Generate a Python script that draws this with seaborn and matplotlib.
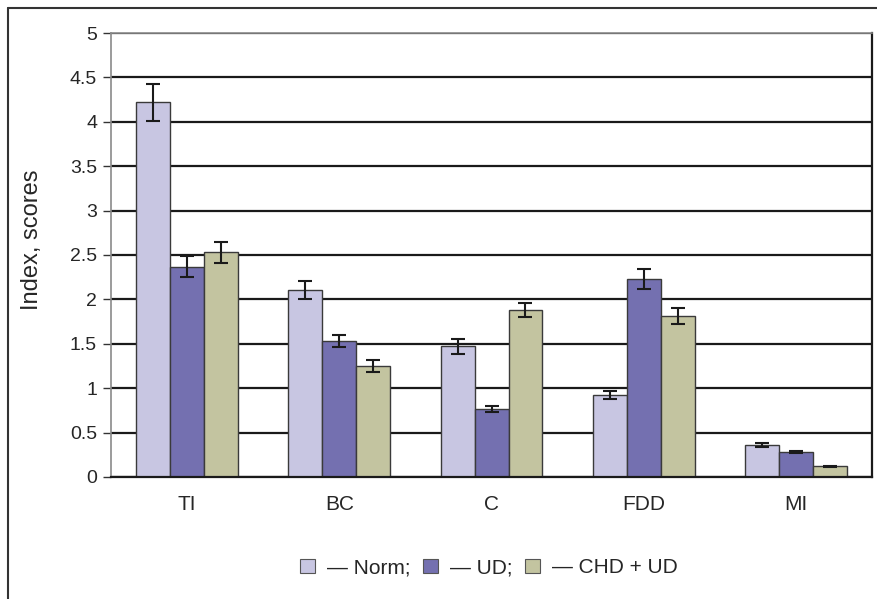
import pandas as pd
import numpy as np
import matplotlib
matplotlib.use("Agg")
import matplotlib.pyplot as plt
import seaborn as sns
from matplotlib.lines import Line2D

categories = ["TI", "BC", "C", "FDD", "MI"]
groups = ["Norm", "UD", "CHD + UD"]
norm_vals = [4.22, 2.11, 1.47, 0.92, 0.36]
ud_vals = [2.37, 1.53, 0.77, 2.23, 0.28]
chd_vals = [2.53, 1.25, 1.88, 1.81, 0.12]
norm_err = [0.21, 0.10, 0.08, 0.045, 0.02]
ud_err = [0.12, 0.07, 0.035, 0.11, 0.01]
chd_err = [0.12, 0.065, 0.08, 0.09, 0.007]
legend_labels = ["\u2014 Norm;", "\u2014 UD;", "\u2014 CHD + UD"]

colors = ["#c8c6e2", "#7470b0", "#c3c4a0"]

df = pd.DataFrame({
    "category": categories * 3,
    "group": [g for g in groups for _ in categories],
    "value": norm_vals + ud_vals + chd_vals,
    "err": norm_err + ud_err + chd_err,
})

sns.set_style("white")
plt.rcParams["font.family"] = ["Liberation Sans", "DejaVu Sans"]

fig = plt.figure(figsize=(8.78, 5.99), dpi=100)
ax = fig.add_axes([0.1264, 0.2037, 0.8668, 0.7412])

sns.barplot(data=df, x="category", y="value", hue="group", order=categories,
            hue_order=groups, palette=colors, saturation=1, width=0.67, errorbar=None,
            edgecolor="#3a3a3a", linewidth=1.0, ax=ax, zorder=3, legend=False)

# error bars at the bar centres
for i, g in enumerate(groups):
    sub = df[df["group"] == g]
    bars = ax.containers[i]
    xs = [b.get_x() + b.get_width() / 2 for b in bars]
    ax.errorbar(xs, sub["value"], yerr=sub["err"], fmt="none", ecolor="#1a1a1a",
                elinewidth=1.5, capsize=5, capthick=1.5, zorder=4)

ax.set_ylim(0, 5)
ax.set_xlim(-0.5, 4.5)
ax.set_yticks(np.arange(0, 5.01, 0.5))
ax.set_yticklabels(["0", "0.5", "1", "1.5", "2", "2.5", "3", "3.5", "4", "4.5", "5"])
ax.yaxis.grid(True, color="#1a1a1a", linewidth=1.6, zorder=0)
ax.set_axisbelow(True)
ax.set_xlabel("")
ax.set_ylabel("Index, scores", fontsize=17)
ax.yaxis.set_label_coords(-0.089, 0.534)

ax.set_xticks(np.arange(-0.5, 4.6, 1), minor=True)
ax.tick_params(axis="x", which="major", length=0, labelsize=15, pad=13)
ax.tick_params(axis="x", which="minor", length=6, width=1.4, color="#1a1a1a", direction="out")
ax.tick_params(axis="y", length=6, width=1.0, color="#333333", direction="out",
               labelsize=14, pad=4, left=True)

for s in ["left", "top"]:
    ax.spines[s].set_color("#8a8a8a")
    ax.spines[s].set_linewidth(1.2)
for s in ["right", "bottom"]:
    ax.spines[s].set_color("#1a1a1a")
    ax.spines[s].set_linewidth(1.6)
ax.spines["bottom"].set_zorder(5)

handles = [plt.Rectangle((0, 0), 1, 1, facecolor=c, edgecolor="#555555", linewidth=0.8)
           for c in colors]
fig.legend(handles, legend_labels, loc="center", bbox_to_anchor=(0.557, 0.052),
           ncol=3, frameon=False, fontsize=15, handlelength=0.7, handleheight=0.7,
           handletextpad=0.6, columnspacing=0.6)

# frame lines of the cropped figure
fig.add_artist(Line2D([0.009, 1.0], [0.986, 0.986], transform=fig.transFigure,
                      color="#333333", linewidth=1.5))
fig.add_artist(Line2D([0.009, 0.009], [0.0, 0.986], transform=fig.transFigure,
                      color="#333333", linewidth=1.5))

fig.savefig("out.png", dpi=100)
